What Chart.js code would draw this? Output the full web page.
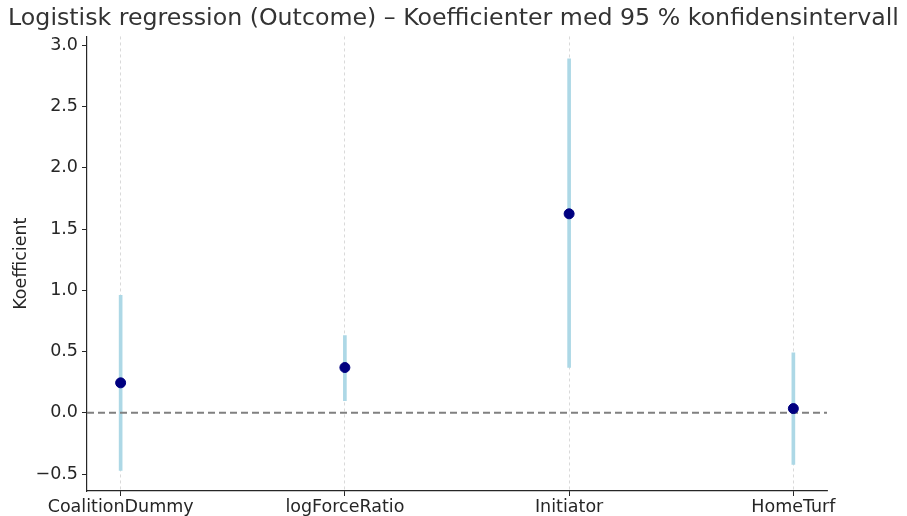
<!DOCTYPE html>
<html>
<head>
<meta charset="utf-8">
<script src="https://cdn.jsdelivr.net/npm/chart.js@4/dist/chart.umd.min.js"></script>
<style>
  html, body { margin: 0; padding: 0; background: #fff; }
  #wrap { width: 907px; height: 516px; }
</style>
</head>
<body>
<div id="wrap"><canvas id="myChart" width="907" height="516"></canvas></div>
<script>
const categories = ["CoalitionDummy", "logForceRatio", "Initiator", "HomeTurf"];
const coefs = [0.245, 0.37, 1.625, 0.035];
const ciLow = [-0.47, 0.10, 0.37, -0.42];
const ciHigh = [0.96, 0.63, 2.89, 0.49];
const yTicks = [-0.5, 0.0, 0.5, 1.0, 1.5, 2.0, 2.5, 3.0];

const textColor = "#262626";
const font = { family: "DejaVu Sans", size: 17.5 };

const ciBars = categories.map((c, i) => ({ x: i, y: [ciLow[i], ciHigh[i]] }));
const points = categories.map((c, i) => ({ x: i, y: coefs[i] }));
const zeroLine = [{ x: -0.15, y: 0 }, { x: 3.15, y: 0 }];

const config = {
  data: {
    datasets: [
      {
        type: "bar",
        label: "95 % KI",
        data: ciBars,
        backgroundColor: "#add8e6",
        borderWidth: 0,
        barThickness: 3,
        order: 3,
      },
      {
        type: "line",
        label: "0",
        data: zeroLine,
        borderColor: "#808080",
        borderWidth: 2,
        borderDash: [7, 4],
        pointRadius: 0,
        order: 2,
      },
      {
        type: "scatter",
        label: "Koefficient",
        data: points,
        backgroundColor: "#000080",
        borderColor: "#000080",
        pointRadius: 5,
        order: 1,
      },
    ],
  },
  options: {
    responsive: false,
    animation: false,
    layout: { padding: 0 },
    plugins: {
      legend: { display: false },
      tooltip: { enabled: false },
      title: {
        display: true,
        text: "Logistisk regression (Outcome) – Koefficienter med 95 % konfidensintervall",
        color: "#333",
        font: { family: "DejaVu Sans", size: 23.7, weight: "normal" },
        padding: { top: 5, bottom: 3 },
      },
    },
    scales: {
      x: {
        type: "linear",
        min: -0.15,
        max: 3.15,
        offset: false,
        afterBuildTicks: (scale) => {
          scale.ticks = categories.map((c, i) => ({ value: i }));
        },
        afterFit: (scale) => { scale.height = 25; },
        ticks: {
          color: textColor,
          font,
          padding: 1,
          maxRotation: 0,
          callback: (v) => categories[v],
        },
        grid: {
          offset: false,
          color: "#d0d0d0",
          lineWidth: 0.8,
          tickColor: textColor,
          tickWidth: 1,
          tickLength: 5,
          tickBorderDash: [],
        },
        border: { display: true, color: textColor, width: 1.2, dash: [3, 3] },
      },
      y: {
        type: "linear",
        min: -0.638,
        max: 3.073,
        afterBuildTicks: (scale) => {
          scale.ticks = yTicks.map((v) => ({ value: v }));
        },
        afterFit: (scale) => { scale.width = 87; },
        ticks: {
          color: textColor,
          font,
          padding: 4,
          callback: (v) => (v < 0 ? "\u2212" + Math.abs(v).toFixed(1) : v.toFixed(1)),
        },
        grid: {
          drawOnChartArea: false,
          tickColor: textColor,
          tickLength: 5,
          tickWidth: 1,
        },
        border: { display: true, color: textColor, width: 1.2 },
        title: {
          display: true,
          text: "Koefficient",
          color: textColor,
          font: { family: "DejaVu Sans", size: 17.5 },
          padding: { top: 11, bottom: 0 },
        },
      },
      // empty right-hand axis that only reserves the right margin
      yRight: {
        type: "linear",
        position: "right",
        display: true,
        grid: { display: false },
        ticks: { display: false },
        border: { display: false },
        afterFit: (scale) => { scale.width = 80; },
      },
    },
  },
};

const canvas = document.getElementById("myChart").getContext("2d");
const myChart = new Chart(canvas, config);
</script>
</body>
</html>
